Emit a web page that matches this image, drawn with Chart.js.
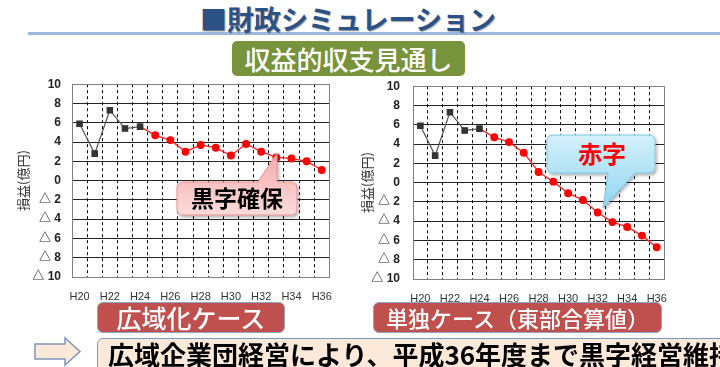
<!DOCTYPE html>
<html>
<head>
<meta charset="utf-8">
<script src="https://cdn.jsdelivr.net/npm/chart.js@4/dist/chart.umd.min.js"></script>
<style>
  body { margin: 0; }
  #page { position: relative; width: 720px; height: 367px; overflow: hidden; background: #fff;
          font-family: "Noto Sans CJK JP", sans-serif; }
  .abs { position: absolute; }
  #rule { left: 28px; top: 32px; width: 692px; height: 3px; background: #9db8dc; }
  #title { left: 200px; top: 2px; font-size: 27px; line-height: 34px; font-weight: 700;
           color: #2b5186; text-shadow: 1px 1px 1px rgba(0,0,0,0.35); white-space: nowrap; }
  #sub { left: 232px; top: 41px; width: 233px; height: 35px; border-radius: 5px; background: #77933c;
         color: #fff; font-size: 26px; line-height: 35px; text-align: center; font-weight: 500; }
  .case { top: 302px; height: 31px; border-radius: 6px; background: #c0504d; border: 1.5px solid #8fa6cb;
          box-sizing: border-box; color: #fff; font-size: 22px; line-height: 28px; text-align: center; font-weight: 500;
          white-space: nowrap; }
  #case1 { left: 97px; width: 188px; font-size: 25px; }
  #case2 { left: 373px; width: 289px; }
  #note { left: 97px; top: 338px; width: 640px; height: 45px; border-radius: 6px; background: #fde9d9;
          border: 1.5px solid #7f96bf; box-sizing: border-box; padding-left: 10px; color: #000;
          font-size: 26px; line-height: 30px; font-weight: 700; white-space: nowrap; }
  canvas { position: absolute; }
  #overlay { position: absolute; left: 0; top: 0; }
</style>
</head>
<body>
<div id="page">
  <div id="rule" class="abs"></div>
  <div id="title" class="abs">■財政シミュレーション</div>
  <div id="sub" class="abs">収益的収支見通し</div>

  <canvas id="wideChart" width="345" height="239" style="left:0;top:66px"></canvas>
  <canvas id="soloChart" width="325" height="241" style="left:355px;top:66px"></canvas>

  <div id="case1" class="abs case">広域化ケース</div>
  <div id="case2" class="abs case">単独ケース（東部合算値）</div>
  <div id="note" class="abs">広域企業団経営により、平成36年度まで黒字経営維持</div>

  <svg id="overlay" width="720" height="367">
    <defs>
      <linearGradient id="pink" x1="0" y1="0" x2="0" y2="1">
        <stop offset="0" stop-color="#f6a9a9"/>
        <stop offset="1" stop-color="#fcdcdc"/>
      </linearGradient>
      <linearGradient id="blue" x1="0" y1="0" x2="0" y2="1">
        <stop offset="0" stop-color="#d4f1fb"/>
        <stop offset="1" stop-color="#8fd5ef"/>
      </linearGradient>
      <filter id="shadow" x="-20%" y="-20%" width="140%" height="150%">
        <feDropShadow dx="1.5" dy="2" stdDeviation="1.5" flood-color="#000" flood-opacity="0.3"/>
      </filter>
    </defs>
    <!-- callout: 黒字確保 -->
    <path d="M183 182 L258 182 L277 153 L277 182 L291 182 Q297 182 297 188 L297 209 Q297 215 291 215
             L183 215 Q177 215 177 209 L177 188 Q177 182 183 182 Z"
          fill="url(#pink)" stroke="#e49090" stroke-width="1" filter="url(#shadow)"/>
    <text x="237" y="207" text-anchor="middle" font-size="23" font-weight="700" fill="#000"
          style="font-family:'Noto Sans CJK JP'">黒字確保</text>
    <!-- callout: 赤字 -->
    <path d="M553 135 L649 135 Q655 135 655 141 L655 167 Q655 173 649 173 L635 173 L603 208 L608 173
             L553 173 Q547 173 547 167 L547 141 Q547 135 553 135 Z"
          fill="url(#blue)" stroke="#7cc6e4" stroke-width="1" filter="url(#shadow)"/>
    <text x="602" y="163" text-anchor="middle" font-size="24" font-weight="700" fill="#ff0000"
          style="font-family:'Noto Sans CJK JP'">赤字</text>
    <!-- arrow -->
    <path d="M35 344 L65 344 L65 338 L80 351.5 L65 365 L65 359 L35 359 Z"
          fill="#fde9d9" stroke="#7f96bf" stroke-width="1.5"/>
  </svg>
</div>

<script>
const years = ['H20', 'H21', 'H22', 'H23', 'H24', 'H25', 'H26', 'H27', 'H28',
               'H29', 'H30', 'H31', 'H32', 'H33', 'H34', 'H35', 'H36'];

// H20-H24 results (same in both cases)
const actual = [5.9, 2.8, 7.3, 5.4, 5.6];

// forecasts from H24 to H36
const wideForecast = [5.6, 4.7, 4.2, 3.0, 3.7, 3.4, 2.6, 3.8, 3.0, 2.4, 2.3, 2.0, 1.1];
const soloForecast = [5.6, 4.7, 4.2, 3.1, 1.1, 0.1, -1.1, -1.8, -3.1, -4.1, -4.6, -5.5, -6.7];

const yMin = -10, yMax = 10, yStep = 2;

const frame = {
  id: 'frame',
  afterDatasetsDraw(chart) {
    const a = chart.chartArea, ctx = chart.ctx;
    ctx.save();
    ctx.strokeStyle = '#808080';
    ctx.lineWidth = 1;
    ctx.setLineDash([]);
    ctx.strokeRect(Math.round(a.left) + 0.5, Math.round(a.top) + 0.5,
                   Math.round(a.right - a.left), Math.round(a.bottom - a.top));
    ctx.restore();
  }
};

function makeChart(id, forecast, yWidth, titlePad, labelPad) {
  const actualData = actual.concat(Array(years.length - actual.length).fill(null));
  const forecastData = Array(actual.length - 1).fill(null).concat(forecast);
  const hidden = actual.length - 1;
  return new Chart(document.getElementById(id), {
    type: 'line',
    data: {
      labels: years,
      datasets: [
        {
          data: actualData,
          showLine: true,
          borderColor: '#555',
          borderWidth: 1.2,
          pointStyle: 'rect',
          pointRadius: 3.8,
          pointBackgroundColor: '#333',
          pointBorderColor: '#333'
        },
        {
          data: forecastData,
          showLine: true,
          borderColor: '#ff2020',
          borderWidth: 1.3,
          pointRadius: forecastData.map((v, i) => (i === hidden ? 0 : 3.3)),
          pointBackgroundColor: '#ff0000',
          pointBorderColor: '#ff0000'
        }
      ]
    },
    options: {
      responsive: false,
      animation: false,
      layout: { padding: { top: 0, right: 4, left: 0, bottom: 0 } },
      plugins: { legend: { display: false }, tooltip: { enabled: false } },
      scales: {
        x: {
          offset: true,
          grid: { offset: true, color: '#000', lineWidth: 1, drawTicks: false },
          border: { display: false, dash: [3, 3] },
          ticks: {
            autoSkip: false,
            maxRotation: 0,
            padding: 13,
            color: '#333',
            font: { family: 'Liberation Sans', size: 11 },
            callback: (v, i) => (i % 2 === 0 ? years[i] : '')
          },
          afterFit: s => { s.height = 28; }
        },
        y: {
          min: yMin,
          max: yMax,
          grid: { color: '#222', lineWidth: 1, drawTicks: false },
          border: { display: false },
          ticks: {
            stepSize: yStep,
            padding: labelPad,
            color: '#222',
            font: { family: "'Liberation Sans', 'Noto Sans CJK JP'", size: 12, weight: 'bold' },
            callback: v => (v < 0 ? '△ ' + (-v) : String(v))
          },
          title: {
            display: true,
            text: '損益(億円)',
            color: '#333',
            padding: titlePad,
            font: { family: 'Noto Sans CJK JP', size: 13 }
          },
          afterFit: s => { s.width = yWidth; }
        }
      }
    },
    plugins: [frame]
  });
}

makeChart('wideChart', wideForecast, 72, { top: 15, bottom: 0 }, 11);
makeChart('soloChart', soloForecast, 58, { top: 4, bottom: 0 }, 13);
</script>
</body>
</html>
